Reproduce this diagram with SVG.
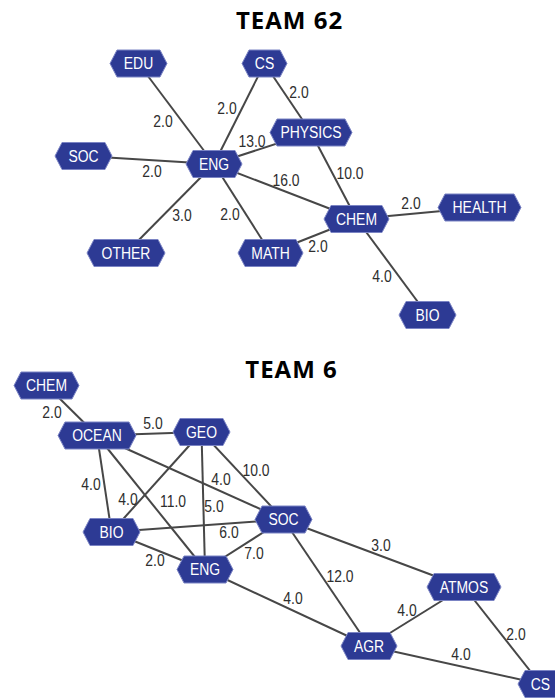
<svg xmlns="http://www.w3.org/2000/svg" width="555" height="698" viewBox="0 0 555 698">
  <style>
    .title { font-family: "Open Sans", Lato, sans-serif; font-weight: 700; font-size: 24px; letter-spacing: 1px; fill: #000; text-anchor: middle; }
    .edge line { stroke: #474747; stroke-width: 2; }
    .node polygon { fill: #2d3a94; stroke: #7b84c4; stroke-width: 1; }
    .lbl, .w { font-family: "Liberation Sans", Arial, sans-serif; font-size: 17px; text-anchor: middle;
               transform-box: fill-box; transform-origin: center; transform: scaleX(0.82); }
    .lbl { fill: #fff; }
    .w { fill: #2e2e2e; }
  </style>

  <rect width="555" height="698" fill="#fff"/>

  <text class="title" x="289.5" y="29">TEAM 62</text>
  <text class="title" x="291.5" y="378">TEAM 6</text>

  <!-- connectors, team 62 -->
  <g id="connectors-team62" class="edge">
    <line x1="138.5" y1="63.5" x2="214" y2="164"/>
    <line x1="264.5" y1="63.5" x2="214" y2="164"/>
    <line x1="264.5" y1="63.5" x2="311" y2="132.5"/>
    <line x1="83.5" y1="156" x2="214" y2="164"/>
    <line x1="214" y1="164" x2="311" y2="132.5"/>
    <line x1="214" y1="164" x2="356.5" y2="219"/>
    <line x1="311" y1="132.5" x2="356.5" y2="219"/>
    <line x1="214" y1="164" x2="126" y2="253"/>
    <line x1="214" y1="164" x2="270.5" y2="253"/>
    <line x1="270.5" y1="253" x2="356.5" y2="219"/>
    <line x1="356.5" y1="219" x2="479.5" y2="207.5"/>
    <line x1="356.5" y1="219" x2="427.5" y2="315"/>
  </g>

  <!-- connectors, team 6 -->
  <g id="connectors-team6" class="edge">
    <line x1="46.5" y1="385.5" x2="97" y2="435.5"/>
    <line x1="97" y1="435.5" x2="201.5" y2="432"/>
    <line x1="97" y1="435.5" x2="111.5" y2="532"/>
    <line x1="97" y1="435.5" x2="205" y2="569.5"/>
    <line x1="97" y1="435.5" x2="283.5" y2="519.5"/>
    <line x1="201.5" y1="432" x2="111.5" y2="532"/>
    <line x1="201.5" y1="432" x2="205" y2="569.5"/>
    <line x1="201.5" y1="432" x2="283.5" y2="519.5"/>
    <line x1="111.5" y1="532" x2="283.5" y2="519.5"/>
    <line x1="111.5" y1="532" x2="205" y2="569.5"/>
    <line x1="205" y1="569.5" x2="283.5" y2="519.5"/>
    <line x1="283.5" y1="519.5" x2="464" y2="587"/>
    <line x1="283.5" y1="519.5" x2="369" y2="646"/>
    <line x1="205" y1="569.5" x2="369" y2="646"/>
    <line x1="369" y1="646" x2="464" y2="587"/>
    <line x1="464" y1="587" x2="540.5" y2="684"/>
    <line x1="369" y1="646" x2="540.5" y2="684"/>
  </g>

  <!-- connector weights -->
  <g id="weights">
    <text class="w" x="163" y="127">2.0</text>
    <text class="w" x="227" y="114">2.0</text>
    <text class="w" x="299" y="98">2.0</text>
    <text class="w" x="252" y="147">13.0</text>
    <text class="w" x="152" y="177">2.0</text>
    <text class="w" x="286" y="186">16.0</text>
    <text class="w" x="350" y="179">10.0</text>
    <text class="w" x="411" y="209">2.0</text>
    <text class="w" x="318" y="252">2.0</text>
    <text class="w" x="382" y="282">4.0</text>
    <text class="w" x="230" y="220">2.0</text>
    <text class="w" x="182" y="221">3.0</text>

    <text class="w" x="52" y="418">2.0</text>
    <text class="w" x="153" y="429">5.0</text>
    <text class="w" x="91" y="490">4.0</text>
    <text class="w" x="128" y="505">4.0</text>
    <text class="w" x="173" y="507">11.0</text>
    <text class="w" x="214" y="512">5.0</text>
    <text class="w" x="221" y="485">4.0</text>
    <text class="w" x="256" y="476">10.0</text>
    <text class="w" x="229" y="538">6.0</text>
    <text class="w" x="155" y="566">2.0</text>
    <text class="w" x="254" y="559">7.0</text>
    <text class="w" x="381" y="551">3.0</text>
    <text class="w" x="340" y="582">12.0</text>
    <text class="w" x="293" y="604">4.0</text>
    <text class="w" x="407" y="616">4.0</text>
    <text class="w" x="516" y="640">2.0</text>
    <text class="w" x="461" y="660">4.0</text>
  </g>

  <!-- nodes, team 62 -->
  <g id="t62-edu" class="node"><polygon points="110,63.5 117,50 160,50 167,63.5 160,77 117,77"/><text class="lbl" x="138.5" y="69.5">EDU</text></g>
  <g id="t62-cs" class="node"><polygon points="242,63.5 249,50 280,50 287,63.5 280,77 249,77"/><text class="lbl" x="264.5" y="69.5">CS</text></g>
  <g id="t62-soc" class="node"><polygon points="55,156 62,142.5 105,142.5 112,156 105,169.5 62,169.5"/><text class="lbl" x="83.5" y="162">SOC</text></g>
  <g id="t62-eng" class="node"><polygon points="186,164 193,150.5 235,150.5 242,164 235,177.5 193,177.5"/><text class="lbl" x="214" y="170">ENG</text></g>
  <g id="t62-physics" class="node"><polygon points="270,132.5 277,119 345,119 352,132.5 345,146 277,146"/><text class="lbl" x="311" y="138.5">PHYSICS</text></g>
  <g id="t62-chem" class="node"><polygon points="324,219 331,205.5 382,205.5 389,219 382,232.5 331,232.5"/><text class="lbl" x="356.5" y="225">CHEM</text></g>
  <g id="t62-health" class="node"><polygon points="438,207.5 445,194 514,194 521,207.5 514,221 445,221"/><text class="lbl" x="479.5" y="213.5">HEALTH</text></g>
  <g id="t62-math" class="node"><polygon points="238,253 245,239.5 296,239.5 303,253 296,266.5 245,266.5"/><text class="lbl" x="270.5" y="259">MATH</text></g>
  <g id="t62-bio" class="node"><polygon points="399,315 406,301.5 449,301.5 456,315 449,328.5 406,328.5"/><text class="lbl" x="427.5" y="321">BIO</text></g>
  <g id="t62-other" class="node"><polygon points="87,253 94,239.5 158,239.5 165,253 158,266.5 94,266.5"/><text class="lbl" x="126" y="259">OTHER</text></g>

  <!-- nodes, team 6 -->
  <g id="t6-chem" class="node"><polygon points="14,385.5 21,372 72,372 79,385.5 72,399 21,399"/><text class="lbl" x="46.5" y="391.5">CHEM</text></g>
  <g id="t6-ocean" class="node"><polygon points="58,435.5 65,422 129,422 136,435.5 129,449 65,449"/><text class="lbl" x="97" y="441.5">OCEAN</text></g>
  <g id="t6-geo" class="node"><polygon points="173,432 180,418.5 223,418.5 230,432 223,445.5 180,445.5"/><text class="lbl" x="201.5" y="438">GEO</text></g>
  <g id="t6-bio" class="node"><polygon points="83,532 90,518.5 133,518.5 140,532 133,545.5 90,545.5"/><text class="lbl" x="111.5" y="538">BIO</text></g>
  <g id="t6-soc" class="node"><polygon points="255,519.5 262,506 305,506 312,519.5 305,533 262,533"/><text class="lbl" x="283.5" y="525.5">SOC</text></g>
  <g id="t6-eng" class="node"><polygon points="177,569.5 184,556 226,556 233,569.5 226,583 184,583"/><text class="lbl" x="205" y="575.5">ENG</text></g>
  <g id="t6-atmos" class="node"><polygon points="427,587 434,573.5 494,573.5 501,587 494,600.5 434,600.5"/><text class="lbl" x="464" y="593">ATMOS</text></g>
  <g id="t6-agr" class="node"><polygon points="341,646 348,632.5 390,632.5 397,646 390,659.5 348,659.5"/><text class="lbl" x="369" y="652">AGR</text></g>
  <g id="t6-cs" class="node"><polygon points="518,684 525,670.5 556,670.5 563,684 556,697.5 525,697.5"/><text class="lbl" x="540.5" y="690">CS</text></g>
</svg>
